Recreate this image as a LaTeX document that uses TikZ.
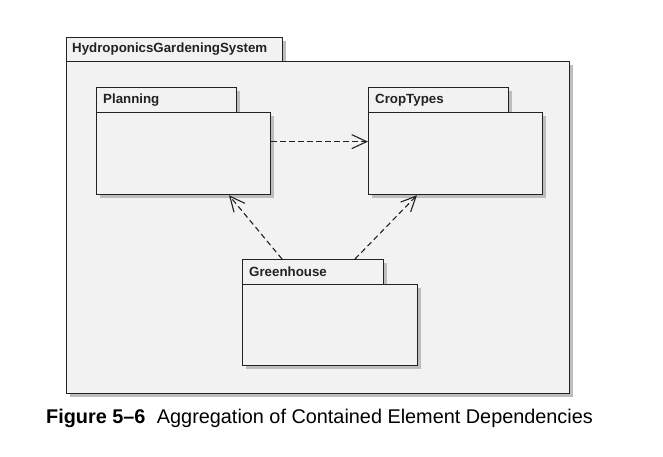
\documentclass[tikz,border=0pt]{standalone}
\usepackage{fontspec}
\setmainfont{Liberation Sans}
\usetikzlibrary{arrows.meta,shadows}
\definecolor{pkgfill}{HTML}{F2F2F2}
\definecolor{pkgline}{HTML}{222222}
\definecolor{shadowgray}{HTML}{BDBDBD}
\tikzset{
  pkg/.style={draw=pkgline, fill=pkgfill, line width=1.25pt, inner sep=0pt, anchor=north west,
    drop shadow={shadow xshift=3.5pt, shadow yshift=-3.5pt, fill=shadowgray, opacity=1}},
  pkglabel/.style={font=\fontsize{13.3}{15}\selectfont\bfseries, text=pkgline, inner sep=0pt, anchor=west},
  dep/.style={draw=pkgline, line width=1.1pt, dash pattern=on 5.5pt off 3.5pt, -{Straight Barb[length=15pt,width=14pt,line width=1.1pt]}}
}
\begin{document}
\begin{tikzpicture}[x=1pt,y=-1pt]
\useasboundingbox (0,0) rectangle (663,456);
% outer package
\node[pkg, minimum width=216pt, minimum height=24pt] (outT) at (66,37) {};
\node[pkg, minimum width=503pt, minimum height=332pt] (outB) at (66,61) {};
\node[pkglabel] (outL) at (72,49.5) {HydroponicsGardeningSystem};
% Planning
\node[pkg, minimum width=140pt, minimum height=25pt] (planT) at (96,87) {};
\node[pkg, minimum width=174pt, minimum height=82pt] (planB) at (96,112) {};
\node[pkglabel] (planL) at (103,100) {Planning};
% CropTypes
\node[pkg, minimum width=140pt, minimum height=25pt] (cropT) at (368,87) {};
\node[pkg, minimum width=174pt, minimum height=82pt] (cropB) at (368,112) {};
\node[pkglabel] (cropL) at (375,100) {CropTypes};
% Greenhouse
\node[pkg, minimum width=141pt, minimum height=25pt] (ghT) at (242,259) {};
\node[pkg, minimum width=175pt, minimum height=81pt] (ghB) at (242,284) {};
\node[pkglabel] (ghL) at (249,272) {Greenhouse};
% dependencies
\draw[dep] ([yshift=12pt]planB.east) -- ([yshift=12pt]cropB.west);
\draw[dep] ([xshift=40pt]ghT.north west) -- ([xshift=133pt]planB.south west);
\draw[dep] ([xshift=113pt]ghT.north west) -- ([xshift=49pt]cropB.south west);
% caption
\node[anchor=west, inner sep=0pt, font=\fontsize{19.85}{22}\selectfont] (cap) at (46,418)
  {\textbf{Figure 5–6}\hspace{0.3em} Aggregation of Contained Element Dependencies};
\end{tikzpicture}
\end{document}
